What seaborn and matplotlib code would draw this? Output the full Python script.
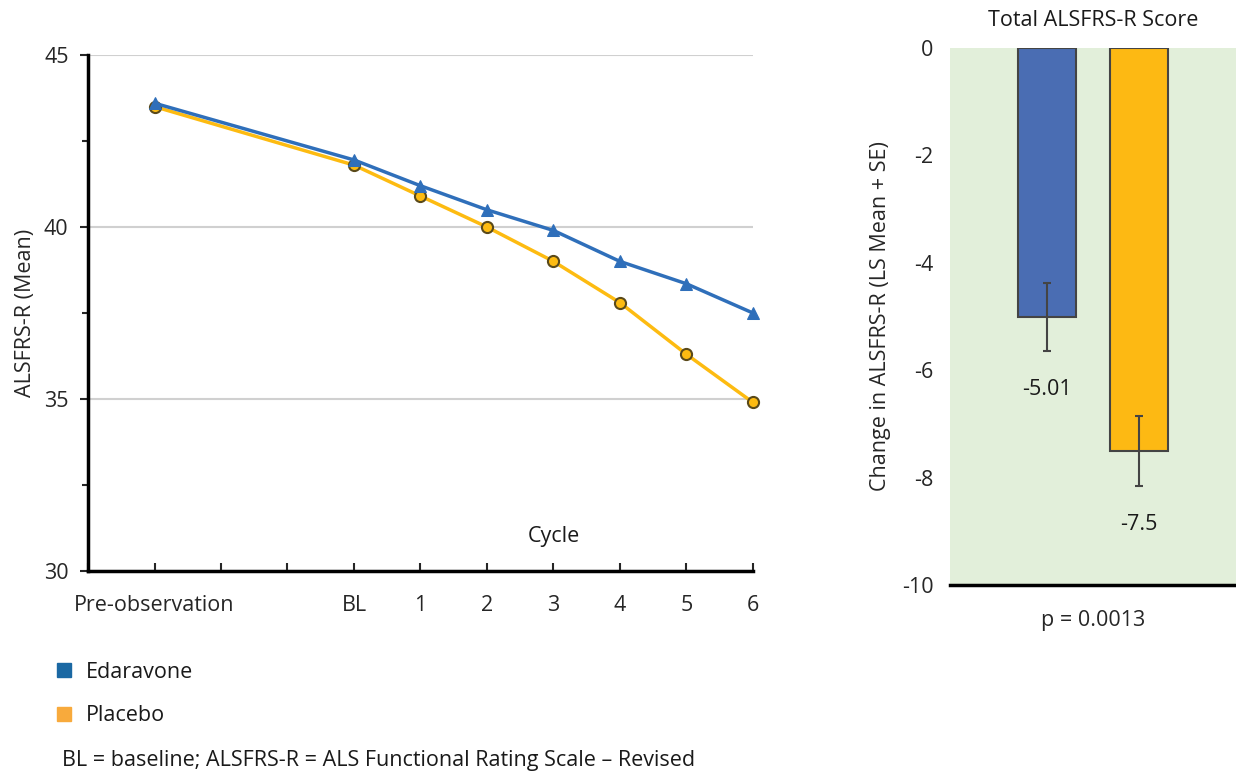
import matplotlib
matplotlib.use("Agg")
import matplotlib.pyplot as plt
from matplotlib.lines import Line2D
from matplotlib.transforms import ScaledTranslation
import seaborn as sns
import pandas as pd
import numpy as np

# ---------------- data ----------------
x_slots = ["Pre-observation", "", "", "BL", "1", "2", "3", "4", "5", "6"]
visits = ["Pre-observation", "BL", "1", "2", "3", "4", "5", "6"]
edaravone_mean = [43.6, 41.95, 41.2, 40.5, 39.9, 39.0, 38.35, 37.5]
placebo_mean = [43.5, 41.8, 40.9, 40.0, 39.0, 37.8, 36.3, 34.9]

groups = ["Edaravone", "Placebo"]
change_ls_mean = [-5.01, -7.5]
change_se = [0.63, 0.65]
p_text = "p = 0.0013"

# ---------------- style ----------------
sns.set_theme(style="white")
plt.rcParams["font.family"] = ["Open Sans", "DejaVu Sans"]
plt.rcParams["text.color"] = "#1a1a1a"
FS = 15.5

blue_line = "#2f6fba"
yellow_line = "#fdbb11"
bar_blue = "#4a6db3"
bar_yellow = "#fdb913"
legend_blue = "#1a68a3"
legend_orange = "#f8aa3c"

fig = plt.figure(figsize=(12.36, 7.73), dpi=100)

# ---------------- left: line chart ----------------
ax = fig.add_axes([0.0712, 0.2613, 0.538, 0.6675])
pos = [x_slots.index(v) for v in visits]
df = pd.DataFrame({
    "pos": pos * 2,
    "value": edaravone_mean + placebo_mean,
    "group": ["Edaravone"] * len(visits) + ["Placebo"] * len(visits),
})
sns.lineplot(data=df[df.group == "Edaravone"], x="pos", y="value", ax=ax,
             color=blue_line, linewidth=2.5, marker="^", markersize=8,
             markeredgecolor=blue_line, markerfacecolor=blue_line, zorder=3,
             clip_on=False)
sns.lineplot(data=df[df.group == "Placebo"], x="pos", y="value", ax=ax,
             color=yellow_line, linewidth=2.5, marker="o", markersize=8,
             markeredgecolor="#5a4a1a", markeredgewidth=1.5,
             markerfacecolor=yellow_line, zorder=2, clip_on=False)

ax.set_xlim(-1, len(x_slots) - 1)
ax.set_ylim(30, 45)
ax.set_xticks(range(-1, len(x_slots)))
ax.set_xticklabels([""] + x_slots, fontsize=FS)
# nudge the long first label a bit to the right, like the original
lbl = ax.get_xticklabels()[1]
lbl.set_transform(lbl.get_transform() + ScaledTranslation(8 / 100, 0, fig.dpi_scale_trans))
ax.set_yticks([30, 35, 40, 45])
ax.set_yticks([32.5, 37.5, 42.5], minor=True)
ax.tick_params(axis="y", labelsize=FS, length=6, width=1.5, direction="out", left=True, pad=8)
ax.tick_params(axis="y", which="minor", length=4, width=1.5, left=True)
ax.tick_params(axis="x", length=6, width=1.5, direction="in", bottom=True, pad=17)
ax.grid(axis="y", which="major", color="#d0d0d0", linewidth=1.5)
ax.set_axisbelow(True)
for s in ["top", "right"]:
    ax.spines[s].set_visible(False)
for s in ["left", "bottom"]:
    ax.spines[s].set_color("black")
    ax.spines[s].set_linewidth(2.5)
ax.set_xlabel("")
ax.set_ylabel("ALSFRS-R (Mean)", fontsize=FS, labelpad=6)
ax.text(6, 31.0, "Cycle", ha="center", va="center", fontsize=FS)

# legend + footnote
handles = [Line2D([], [], linestyle="", marker="s", markersize=10, color=legend_blue),
           Line2D([], [], linestyle="", marker="s", markersize=10, color=legend_orange)]
fig.legend(handles, groups, loc="upper left", bbox_to_anchor=(0.038, 0.155),
           frameon=False, fontsize=FS, handlelength=0.8, handletextpad=0.6,
           labelspacing=1.05, borderaxespad=0)
fig.text(0.05, 0.003, "BL = baseline; ALSFRS-R = ALS Functional Rating Scale \u2013 Revised",
         fontsize=FS, ha="left", va="bottom")

# ---------------- right: bar chart ----------------
bx = fig.add_axes([0.7686, 0.2432, 0.2314, 0.6947])
bx.set_facecolor("#e2efda")
bdf = pd.DataFrame({"group": groups, "change": change_ls_mean})
sns.barplot(data=bdf, x="group", y="change", hue="group", ax=bx,
            palette=[bar_blue, bar_yellow], width=0.63, edgecolor="#444444",
            linewidth=1.5, saturation=1, legend=False)
bx.errorbar(range(len(groups)), change_ls_mean, yerr=change_se, fmt="none",
            ecolor="#444444", elinewidth=1.5, capsize=3, capthick=1.5)
for i, (v, e) in enumerate(zip(change_ls_mean, change_se)):
    bx.text(i, v - e - 0.72, f"{v:g}", ha="center", va="center", fontsize=FS)
bx.set_xlim(-1.05, 2.05)
bx.set_ylim(-10, 0)
bx.set_yticks(range(-10, 1, 2))
bx.set_yticklabels([str(t) for t in range(-10, 1, 2)], fontsize=FS)
bx.tick_params(axis="y", length=0, pad=12)
bx.set_xticks([])
bx.set_xlabel(p_text, fontsize=FS, labelpad=18)
bx.set_ylabel("Change in ALSFRS-R (LS Mean + SE)", fontsize=FS, labelpad=8)
bx.set_title("Total ALSFRS-R Score", fontsize=FS, pad=16)
for s in ["top", "right", "left"]:
    bx.spines[s].set_visible(False)
bx.spines["bottom"].set_color("black")
bx.spines["bottom"].set_linewidth(2.5)

fig.savefig("out.png", dpi=100)
